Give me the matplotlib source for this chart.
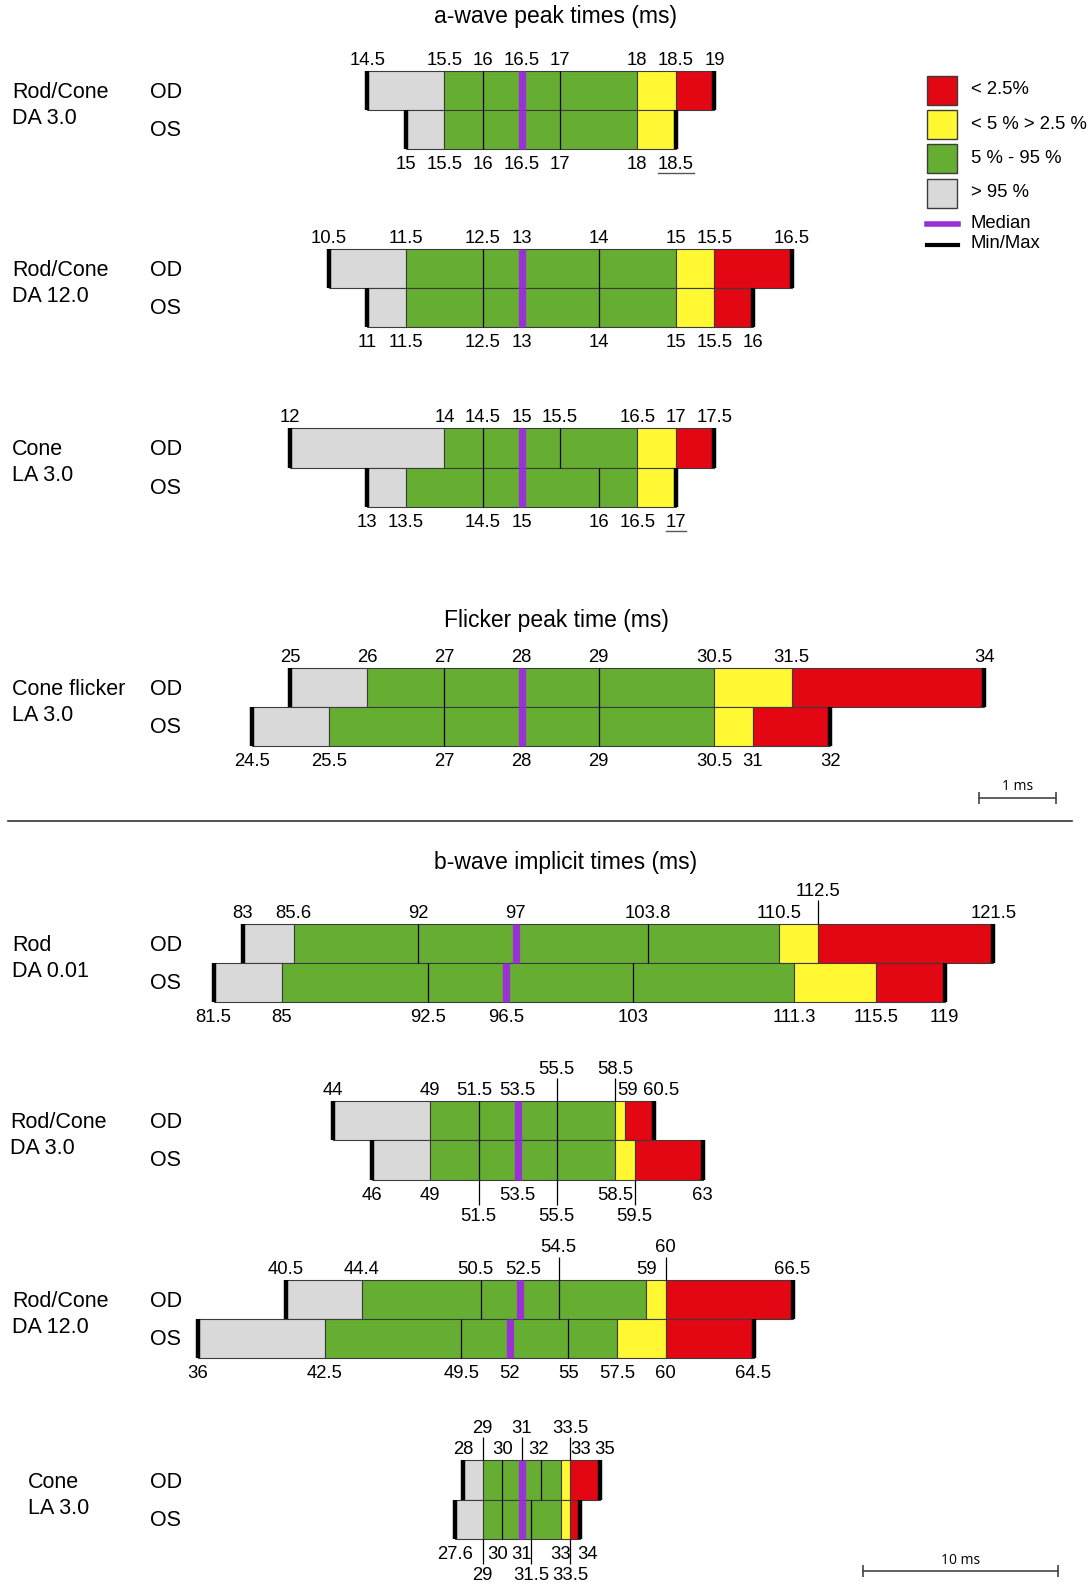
import matplotlib
matplotlib.use("Agg")
import matplotlib.pyplot as plt
from matplotlib.patches import Rectangle

W, H = 1091, 1591
plt.rcParams['font.family'] = ['Liberation Sans', 'DejaVu Sans']

RED = '#e30613'
YELLOW = '#fff833'
GREEN = '#65ae32'
GREY = '#d9d9d9'
PURPLE = '#9b30d6'
SEG_COLORS = [GREY, GREEN, YELLOW, RED]

# edges per eye: [min, >95% | 5-95%, 5-95% | 2.5-5%, 2.5-5% | <2.5%, max]
# a-wave peak times (ms)
aw_rc3_od = [14.5, 15.5, 18, 18.5, 19]
aw_rc3_od_div = [16, 17]
aw_rc3_od_med = 16.5
aw_rc3_os = [15, 15.5, 18, 18.5, 18.5]
aw_rc3_os_div = [16, 17]
aw_rc3_os_med = 16.5

aw_rc12_od = [10.5, 11.5, 15, 15.5, 16.5]
aw_rc12_od_div = [12.5, 14]
aw_rc12_od_med = 13
aw_rc12_os = [11, 11.5, 15, 15.5, 16]
aw_rc12_os_div = [12.5, 14]
aw_rc12_os_med = 13

aw_cone_od = [12, 14, 16.5, 17, 17.5]
aw_cone_od_div = [14.5, 15.5]
aw_cone_od_med = 15
aw_cone_os = [13, 13.5, 16.5, 17, 17]
aw_cone_os_div = [14.5, 16]
aw_cone_os_med = 15

# flicker peak time (ms)
fl_od = [25, 26, 30.5, 31.5, 34]
fl_od_div = [27, 29]
fl_od_med = 28
fl_os = [24.5, 25.5, 30.5, 31, 32]
fl_os_div = [27, 29]
fl_os_med = 28

# b-wave implicit times (ms)
bw_rod_od = [83, 85.6, 110.5, 112.5, 121.5]
bw_rod_od_div = [92, 103.8]
bw_rod_od_med = 97
bw_rod_os = [81.5, 85, 111.3, 115.5, 119]
bw_rod_os_div = [92.5, 103]
bw_rod_os_med = 96.5

bw_rc3_od = [44, 49, 58.5, 59, 60.5]
bw_rc3_od_div = [51.5, 55.5]
bw_rc3_od_med = 53.5
bw_rc3_os = [46, 49, 58.5, 59.5, 63]
bw_rc3_os_div = [51.5, 55.5]
bw_rc3_os_med = 53.5

bw_rc12_od = [40.5, 44.4, 59, 60, 66.5]
bw_rc12_od_div = [50.5, 54.5]
bw_rc12_od_med = 52.5
bw_rc12_os = [36, 42.5, 57.5, 60, 64.5]
bw_rc12_os_div = [49.5, 55]
bw_rc12_os_med = 52

bw_cone_od = [28, 29, 33, 33.5, 35]
bw_cone_od_div = [30, 32]
bw_cone_od_med = 31
bw_cone_os = [27.6, 29, 33, 33.5, 34]
bw_cone_os_div = [30, 31.5]
bw_cone_os_med = 31

legend_labels = ['< 2.5%', '< 5 % > 2.5 %', '5 % - 95 %', '> 95 %']
legend_colors = [RED, YELLOW, GREEN, GREY]

PX_A = 77.13   # px per ms, a-wave / flicker
PX_B = 19.49   # px per ms, b-wave
ROW_H = 39.2
MID_X = 521.6

panels = [
    dict(name=['Rod/Cone', 'DA 3.0'], top=71, px=PX_A, centre=16.5, nx=12,
         od=(aw_rc3_od, aw_rc3_od_div, aw_rc3_od_med),
         os=(aw_rc3_os, aw_rc3_os_div, aw_rc3_os_med), under=[18.5]),
    dict(name=['Rod/Cone', 'DA 12.0'], top=248.7, px=PX_A, centre=13, nx=12,
         od=(aw_rc12_od, aw_rc12_od_div, aw_rc12_od_med),
         os=(aw_rc12_os, aw_rc12_os_div, aw_rc12_os_med)),
    dict(name=['Cone', 'LA 3.0'], top=428.3, px=PX_A, centre=15, nx=12,
         od=(aw_cone_od, aw_cone_od_div, aw_cone_od_med),
         os=(aw_cone_os, aw_cone_os_div, aw_cone_os_med), under=[17]),
    dict(name=['Cone flicker', 'LA 3.0'], top=667.8, px=PX_A, centre=28, nx=12,
         od=(fl_od, fl_od_div, fl_od_med),
         os=(fl_os, fl_os_div, fl_os_med)),
    dict(name=['Rod', 'DA 0.01'], top=923.6, px=PX_B, centre=97.3, nx=12,
         od=(bw_rod_od, bw_rod_od_div, bw_rod_od_med),
         os=(bw_rod_os, bw_rod_os_div, bw_rod_os_med), up=[112.5]),
    dict(name=['Rod/Cone', 'DA 3.0'], top=1101.2, px=PX_B, centre=53.7, nx=10,
         od=(bw_rc3_od, bw_rc3_od_div, bw_rc3_od_med),
         os=(bw_rc3_os, bw_rc3_os_div, bw_rc3_os_med),
         up=[55.5, 58.5], down=[51.5, 55.5, 59.5],
         nudge_od={51.5: -4, 59: 3, 60.5: 7}),
    dict(name=['Rod/Cone', 'DA 12.0'], top=1279.8, px=PX_B, centre=52.6, nx=12,
         od=(bw_rc12_od, bw_rc12_od_div, bw_rc12_od_med),
         os=(bw_rc12_os, bw_rc12_os_div, bw_rc12_os_med), up=[54.5, 60],
         nudge_od={50.5: -5, 52.5: 4}),
    dict(name=['Cone', 'LA 3.0'], top=1460.4, px=PX_B, centre=31.0, nx=28,
         od=(bw_cone_od, bw_cone_od_div, bw_cone_od_med),
         os=(bw_cone_os, bw_cone_os_div, bw_cone_os_med),
         up=[29, 31, 33.5], down=[29, 31.5, 33.5],
         nudge_od={32: -3, 33: 20, 35: 5}, nudge_os={30: -5, 34: 7}),
]

fig = plt.figure(figsize=(W / 100, H / 100), dpi=100)
base = fig.add_axes([0, 0, 1, 1])
base.set_xlim(0, W)
base.set_ylim(H, 0)
base.axis('off')
renderer = fig.canvas.get_renderer()

LBL = 13.3
STEP = 21.3


def draw_eye(ax, y0, edges, divs, med):
    y1 = y0 + ROW_H
    for a, b, c in zip(edges[:-1], edges[1:], SEG_COLORS):
        if b > a:
            ax.barh(y0 + ROW_H / 2, b - a, left=a, height=ROW_H, color=c,
                    edgecolor='#3c3c3c', linewidth=0.8)
    ax.vlines(divs, y0, y1, color='black', lw=0.9)
    ax.vlines(med, y0, y1, color=PURPLE, lw=5.2)
    ax.vlines([edges[0], edges[-1]], y0, y1, color='black', lw=3.2)


def values_of(edges, divs, med):
    return sorted(set(edges) | set(divs) | {med})


for p in panels:
    ax = fig.add_axes([0, 0, 1, 1])
    left = p['centre'] - MID_X / p['px']
    ax.set_xlim(left, left + W / p['px'])
    ax.set_ylim(H, 0)
    ax.axis('off')

    od_top = p['top']
    os_top = od_top + ROW_H
    os_bot = os_top + ROW_H
    draw_eye(ax, od_top, *p['od'])
    draw_eye(ax, os_top, *p['os'])

    # value labels above OD row
    up = p.get('up', [])
    nud = p.get('nudge_od', {})
    for v in values_of(*p['od']):
        ty = od_top - 6
        if v in up:
            ty -= STEP
            ax.vlines(v, ty + 4, od_top, color='black', lw=0.9)
        ax.text(v + nud.get(v, 0) / p['px'], ty, f'{v:g}', ha='center',
                va='baseline', fontsize=LBL)

    # value labels below OS row
    down = p.get('down', [])
    under = p.get('under', [])
    nud = p.get('nudge_os', {})
    for v in values_of(*p['os']):
        ty = os_bot + 20
        if v in down:
            ty += STEP
            ax.vlines(v, os_bot, ty - 16, color='black', lw=0.9)
        t = ax.text(v + nud.get(v, 0) / p['px'], ty, f'{v:g}', ha='center',
                    va='baseline', fontsize=LBL)
        if v in under:
            bb = t.get_window_extent(renderer=renderer)
            inv = ax.transData.inverted()
            x0 = inv.transform((bb.x0, 0))[0]
            x1 = inv.transform((bb.x1, 0))[0]
            ax.plot([x0, x1], [ty + 4, ty + 4], color='#555555', lw=1.0)

    # row names and eye labels
    base.text(p['nx'], od_top + ROW_H / 2 + 2, p['name'][0], fontsize=15.5, va='center')
    base.text(p['nx'], od_top + ROW_H / 2 + 28, p['name'][1], fontsize=15.5, va='center')
    base.text(150, od_top + ROW_H / 2 + 2, 'OD', fontsize=15.5, va='center')
    base.text(150, os_top + ROW_H / 2 + 1, 'OS', fontsize=15.5, va='center')

# section titles
base.text(556, 17, 'a-wave peak times (ms)', fontsize=16.5, ha='center', va='center')
base.text(556, 620, 'Flicker peak time (ms)', fontsize=16.5, ha='center', va='center')
base.text(566, 863, 'b-wave implicit times (ms)', fontsize=16.5, ha='center', va='center')

# separator between peak-time and implicit-time blocks
base.plot([8, 1072], [821, 821], color='#333333', lw=1.2)

# legend
for i, (lab, col) in enumerate(zip(legend_labels, legend_colors)):
    y = 76 + i * 34.2
    base.add_patch(Rectangle((926.6, y), 30.4, 29, facecolor=col,
                             edgecolor='#3c3c3c', lw=1.0))
    base.text(971, y + 14, lab, fontsize=LBL, va='center')
base.plot([926.6, 958], [224.3, 224.3], color=PURPLE, lw=4)
base.plot([926.6, 958], [244.6, 244.6], color='black', lw=3)
base.text(971, 224, 'Median', fontsize=LBL, va='center')
base.text(971, 244, 'Min/Max', fontsize=LBL, va='center')

# scale bars
for x0, y, ms, px in [(979, 797.7, 1, PX_A), (862.7, 1571, 10, PX_B)]:
    x1 = x0 + ms * px
    base.plot([x0, x1], [y, y], color='#444444', lw=1.2)
    base.vlines([x0, x1], y - 6, y + 6, color='#444444', lw=1.2)
    base.text((x0 + x1) / 2, y - 11, f'{ms} ms', fontsize=10, ha='center',
              va='center', family=['Open Sans', 'DejaVu Sans'])

fig.savefig('out.png', dpi=100)
